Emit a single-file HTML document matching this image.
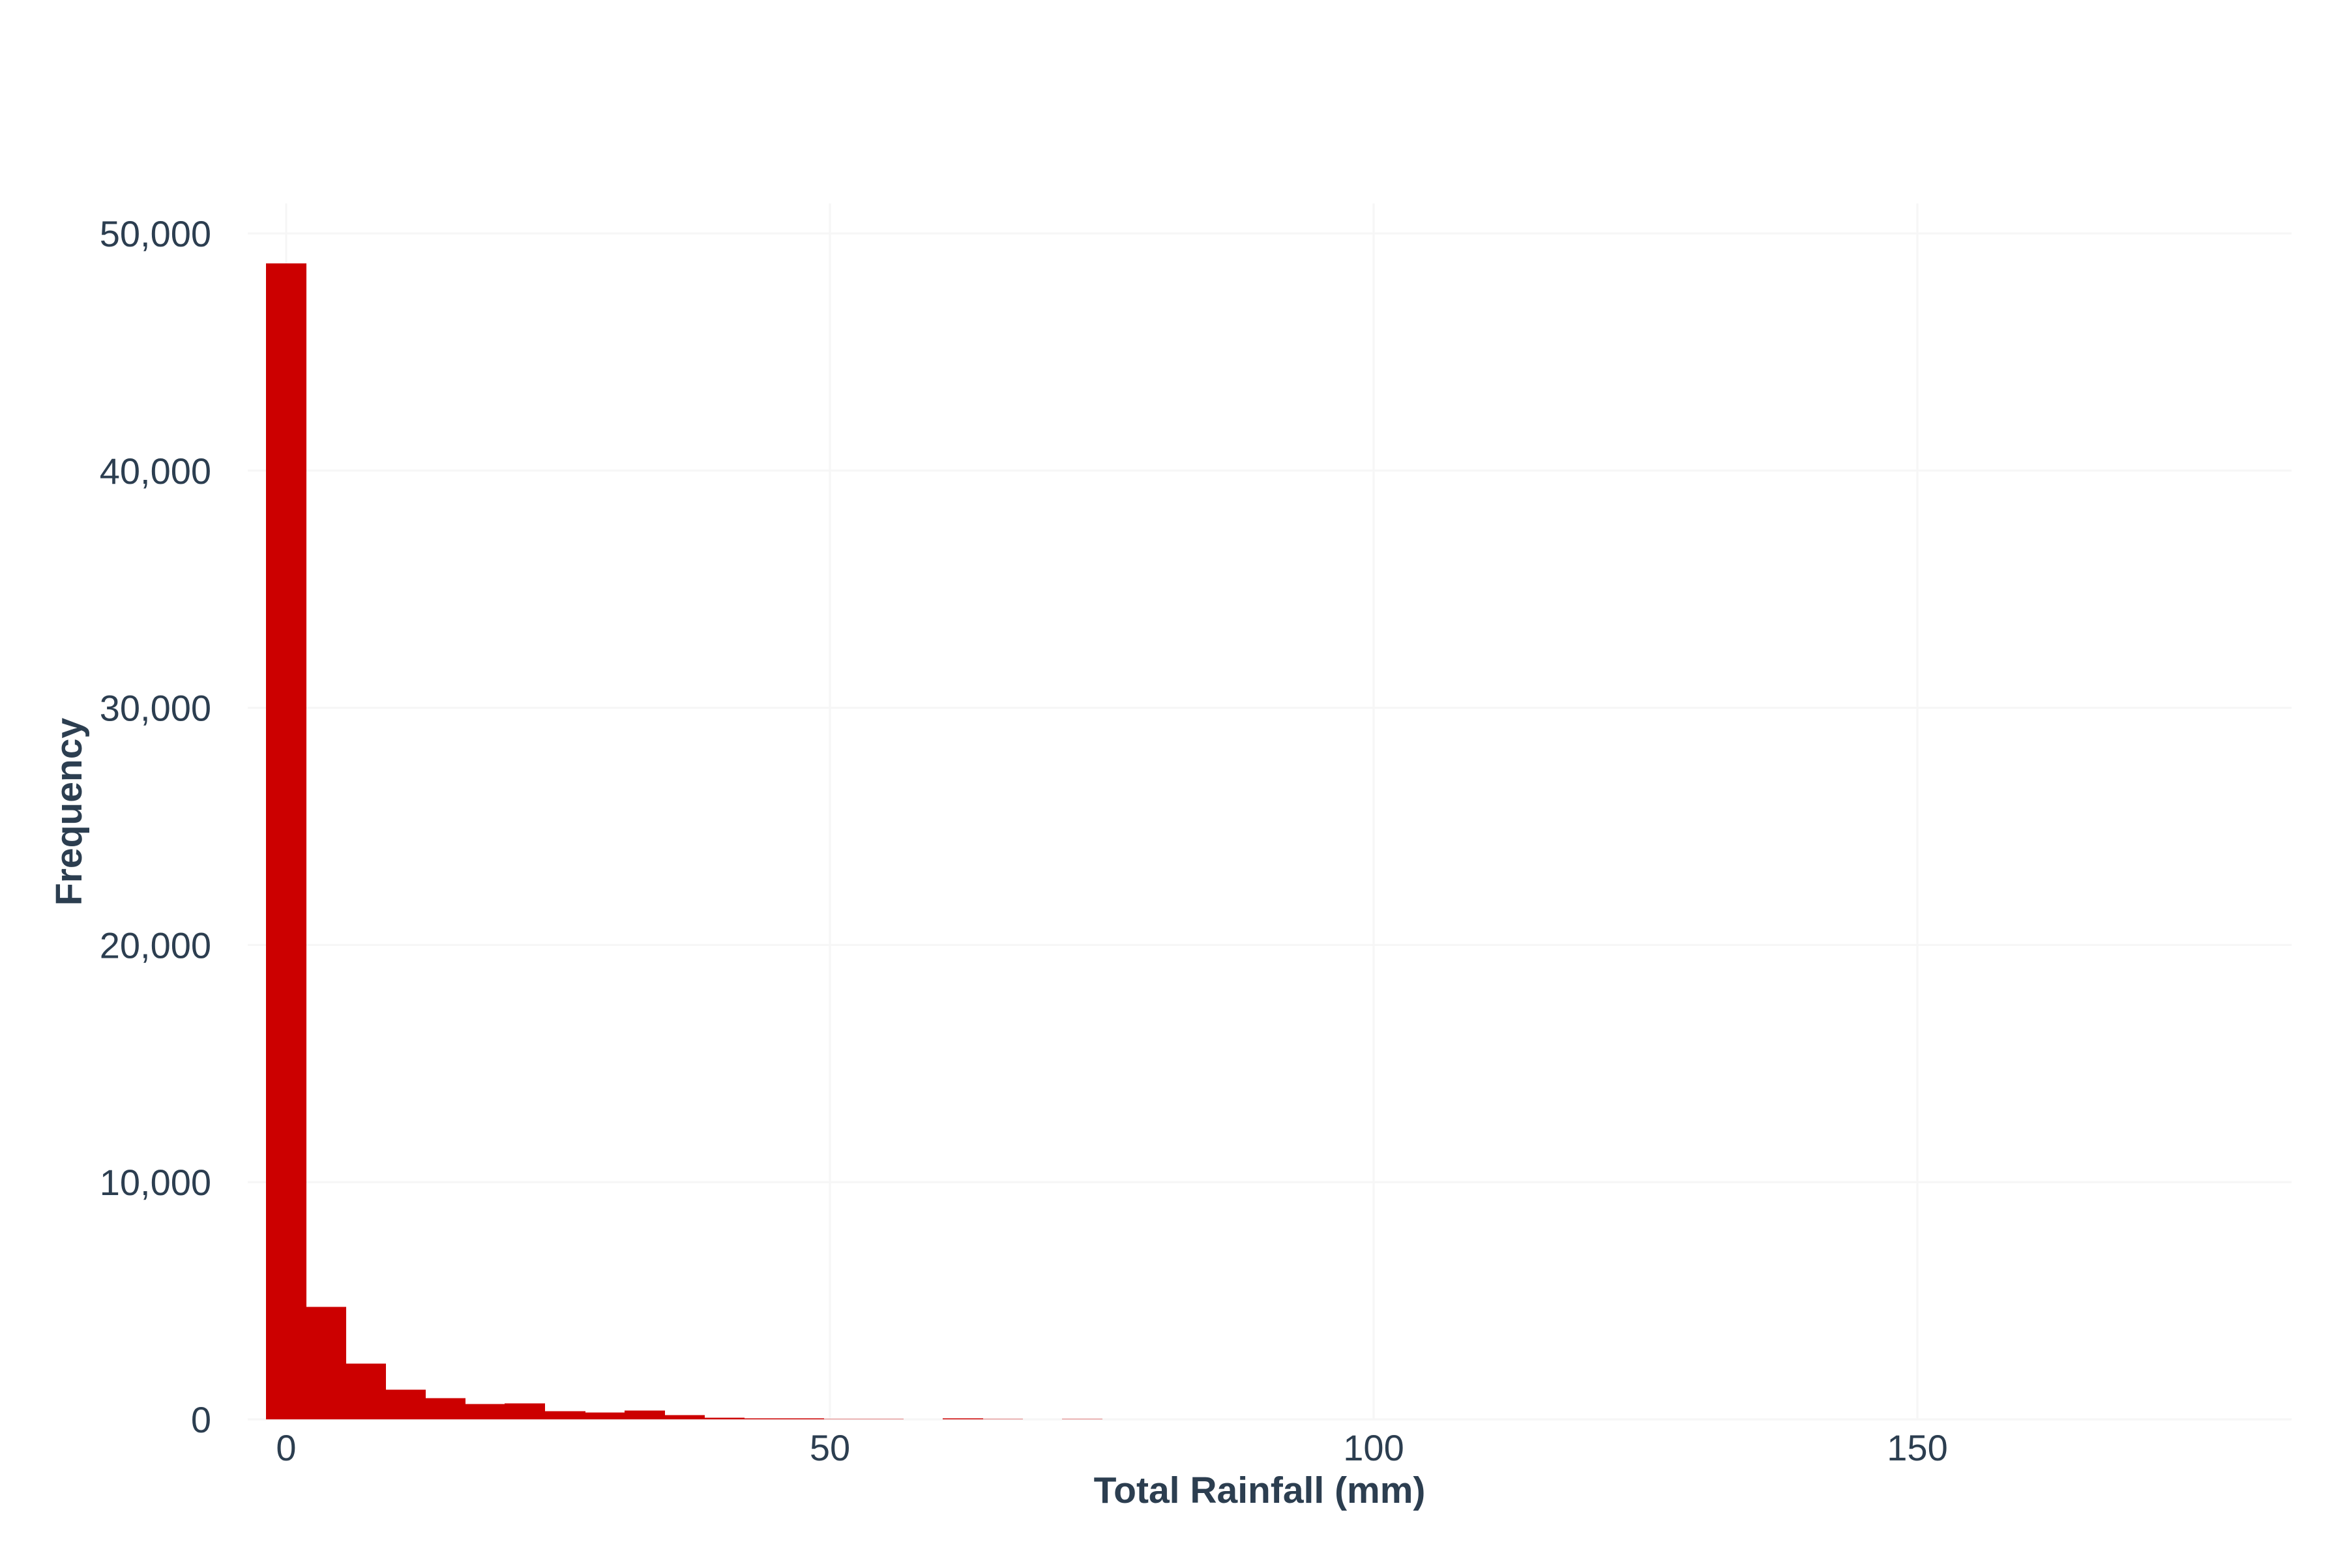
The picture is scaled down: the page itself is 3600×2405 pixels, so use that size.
<!DOCTYPE html>
<html><head><meta charset="utf-8"><style>
html,body{margin:0;padding:0;background:#fff;}
svg text{font-family:"Liberation Sans",Arial,sans-serif;fill:#2c3e50;}
</style></head><body>
<svg id="chart" width="3600" height="2400" viewBox="0 0 3600 2400" xmlns="http://www.w3.org/2000/svg">
<rect width="3600" height="2400" fill="#fff"/>
<g id="grid"></g>
<g id="bars" shape-rendering="crispEdges"></g>
<g id="yticks"></g>
<g id="xticks"></g>
<text x="1932" y="2305" font-size="57" font-weight="bold" text-anchor="middle">Total Rainfall (mm)</text>
<text x="0" y="0" font-size="57" font-weight="bold" text-anchor="middle" transform="translate(125,1245) rotate(-90)">Frequency</text>
</svg>
<script>
const binStart = -1.85;
const binSize = 3.66;
const counts = [48740,4747,2355,1256,898,651,678,348,293,376,183,73,46,46,20,20,0,46,20,0,20];
const xTicks = [0,50,100,150];
const xTickLabels = ["0","50","100","150"];
const yTicks = [0,10000,20000,30000,40000,50000];
const yTickLabels = ["0","10,000","20,000","30,000","40,000","50,000"];

const NS = "http://www.w3.org/2000/svg";
const plotL = 380, plotR = 3515, plotT = 312, plotB = 2177;
function xs(v){ return 439 + v * 16.68; }
function ys(v){ return plotB - v * 0.03638; }
function mk(tag, attrs, parent){
  const e = document.createElementNS(NS, tag);
  for (const k in attrs) e.setAttribute(k, attrs[k]);
  parent.appendChild(e);
  return e;
}
const grid = document.getElementById('grid');
const bars = document.getElementById('bars');
const yt = document.getElementById('yticks');
const xt = document.getElementById('xticks');

xTicks.forEach((t, i) => {
  const l = mk('line', {x1: xs(t), x2: xs(t), y1: plotT, y2: plotB, stroke: '#f6f6f6', 'stroke-width': 3}, grid);
  
  
  const tx = mk('text', {x: xs(t), y: 2240, 'font-size': 56, 'text-anchor': 'middle'}, xt);
  tx.textContent = xTickLabels[i];
  
  
});
yTicks.forEach((t, i) => {
  const l = mk('line', {x1: plotL, x2: plotR, y1: ys(t), y2: ys(t), stroke: '#f6f6f6', 'stroke-width': 3}, grid);
  
  
  const tx = mk('text', {x: 324, y: ys(t) + 20, 'font-size': 56, 'text-anchor': 'end'}, yt);
  tx.textContent = yTickLabels[i];
  
  
});
counts.forEach((c, i) => {
  if (c <= 0) return;
  const x0 = Math.round(xs(binStart + i * binSize)), x1 = Math.round(xs(binStart + (i + 1) * binSize));
  const r = mk('rect', {x: x0, y: ys(c), width: x1 - x0 + 1, height: plotB - ys(c), fill: '#cc0000'}, bars);
  
  
});
</script>
</body></html>
